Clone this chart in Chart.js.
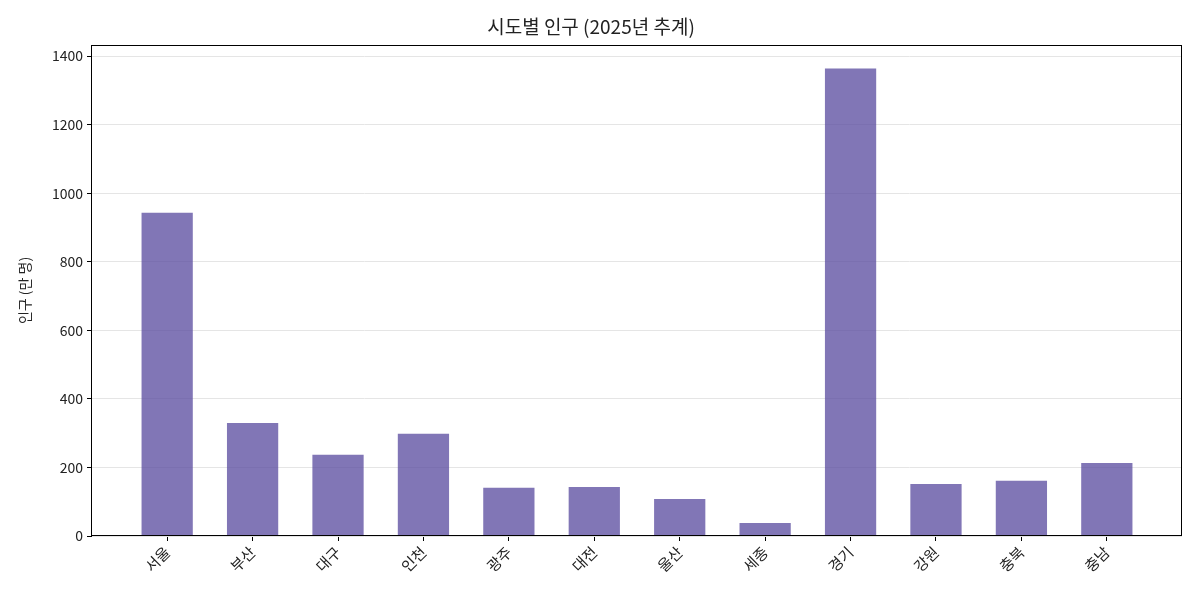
<!DOCTYPE html>
<html>
<head>
<meta charset="utf-8">
<script src="https://cdn.jsdelivr.net/npm/chart.js@4"></script>
<style>
  html, body { margin: 0; padding: 0; background: #fff; }
  #wrap { width: 1200px; height: 600px; }
</style>
</head>
<body>
<div id="wrap"><canvas id="chart" width="1200" height="600"></canvas></div>
<script>
const regions = ['서울', '부산', '대구', '인천', '광주', '대전', '울산', '세종', '경기', '강원', '충북', '충남'];
const population = [943, 330, 237, 298, 141, 143, 108, 38, 1364, 152, 161, 213];
const yTicks = [0, 200, 400, 600, 800, 1000, 1200, 1400];

const FONT = "'Noto Sans CJK KR', 'Noto Sans', sans-serif";

// frame around the plot area
const frame = {
    id: 'frame',
    afterDraw(chart) {
        const a = chart.chartArea;
        const ctx = chart.ctx;
        const l = Math.round(a.left) - 0.5, t = Math.round(a.top) + 0.5;
        const r = Math.round(a.right) - 0.5, b = Math.round(a.bottom) - 0.5;
        ctx.save();
        ctx.strokeStyle = '#000';
        ctx.lineWidth = 1;
        ctx.strokeRect(l, t, r - l, b - t);
        ctx.restore();
    }
};

new Chart(document.getElementById('chart'), {
    type: 'bar',
    data: {
        datasets: [{
            data: population.map((v, i) => ({ x: i, y: v })),
            backgroundColor: 'rgba(94, 79, 162, 0.78)',
            borderWidth: 0,
            barPercentage: 0.6,
            categoryPercentage: 1
        }]
    },
    options: {
        responsive: false,
        animation: false,
        layout: { padding: { left: 0, right: 18, top: 0, bottom: 0 } },
        plugins: {
            legend: { display: false },
            tooltip: { enabled: false },
            title: {
                display: true,
                text: '시도별 인구 (2025년 추계)',
                color: '#222',
                font: { family: FONT, size: 19, weight: 'normal' },
                padding: { top: 15, bottom: 7 }
            }
        },
        scales: {
            x: {
                type: 'linear',
                offset: false,
                min: -0.88,
                max: 11.88,
                afterBuildTicks: scale => {
                    scale.ticks = regions.map((r, i) => ({ value: i }));
                },
                afterFit: scale => { scale.height = 64; },
                ticks: {
                    callback: v => regions[v],
                    minRotation: 45,
                    maxRotation: 45,
                    color: '#222',
                    font: { family: FONT, size: 15 },
                    padding: 2
                },
                grid: { offset: false, drawOnChartArea: false, tickColor: '#000', tickLength: 5 },
                border: { display: false }
            },
            y: {
                min: 0,
                max: 1433,
                afterBuildTicks: scale => {
                    scale.ticks = yTicks.map(v => ({ value: v }));
                },
                afterFit: scale => { scale.width = 92; },
                ticks: {
                    callback: v => String(v),
                    color: '#222',
                    font: { family: FONT, size: 14 },
                    padding: 4
                },
                grid: { color: '#e5e5e5', tickColor: '#000', tickLength: 5 },
                border: { display: false },
                title: {
                    display: true,
                    text: '인구 (만 명)',
                    color: '#222',
                    font: { family: FONT, size: 14 },
                    padding: { top: 16, bottom: 4 }
                }
            }
        }
    },
    plugins: [frame]
});
</script>
</body>
</html>
